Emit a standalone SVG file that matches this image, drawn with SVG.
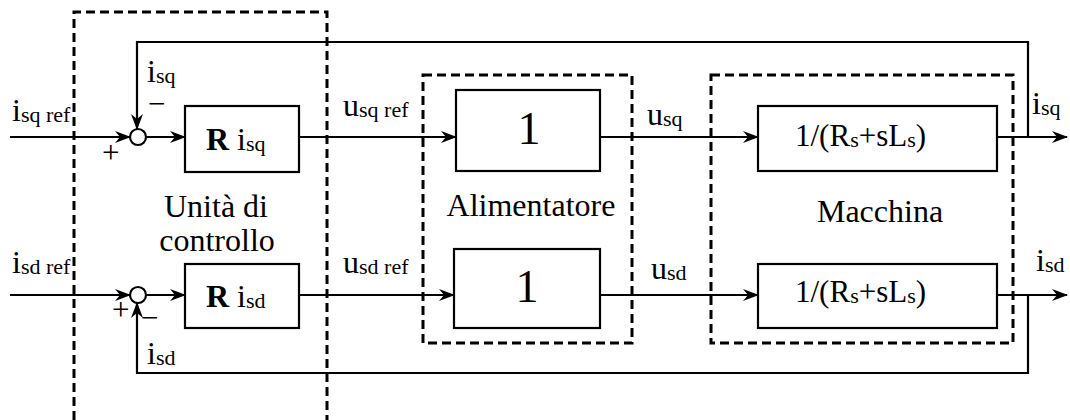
<svg xmlns="http://www.w3.org/2000/svg" width="1070" height="420" viewBox="0 0 1070 420">
<style>
.t{font-family:"Liberation Serif","Times New Roman",serif;font-size:31px;fill:#000}
.lab{font-size:32px}
.s{font-size:22px}
.big{font-size:46px}
.blk{fill:#fff;stroke:#000;stroke-width:2.2}
.ln{fill:none;stroke:#000;stroke-width:2.2}
.ar{marker-end:url(#ah)}
.dash{fill:none;stroke:#000;stroke-width:3;stroke-dasharray:9 5}
</style>
<defs>
<marker id="ah" viewBox="0 0 16 12" refX="15" refY="6" markerWidth="16" markerHeight="12" markerUnits="userSpaceOnUse" orient="auto">
<path d="M0,0 L16,6 L0,12 L5,6 Z" fill="#000"/>
</marker>
</defs>
<rect width="1070" height="420" fill="#fff"/>

<g id="groups">
<path class="dash" d="M74,420 V12 H327 V420"/>
<rect class="dash" x="423" y="75" width="209" height="268"/>
<rect class="dash" x="711" y="75" width="302" height="268"/>
</g>

<g id="connectors">
<line class="ln ar" x1="10" y1="137" x2="130" y2="137"/>
<line class="ln ar" x1="146" y1="137" x2="185" y2="137"/>
<line class="ln ar" x1="299" y1="137" x2="456" y2="137"/>
<line class="ln ar" x1="600" y1="137" x2="758" y2="137"/>
<line class="ln ar" x1="997" y1="137" x2="1067" y2="137"/>
<path class="ln ar" d="M1028,137 V42 H137 V129"/>
<line class="ln ar" x1="10" y1="295" x2="130" y2="295"/>
<line class="ln ar" x1="146" y1="295" x2="185" y2="295"/>
<line class="ln ar" x1="299" y1="295" x2="454" y2="295"/>
<line class="ln ar" x1="600" y1="295" x2="758" y2="295"/>
<line class="ln ar" x1="997" y1="295" x2="1067" y2="295"/>
<path class="ln ar" d="M1028,295 V373 H137 V303"/>
</g>

<g id="sum_q"><circle cx="138" cy="137" r="8" class="blk" stroke-width="2"/></g>
<g id="sum_d"><circle cx="138" cy="295" r="8" class="blk" stroke-width="2"/></g>

<g id="ctrl_q"><rect class="blk" x="185" y="106" width="114" height="66"/>
<text class="t lab" x="206" y="150"><tspan font-weight="bold">R</tspan> i<tspan class="s" dy="1">sq</tspan></text></g>
<g id="ctrl_d"><rect class="blk" x="185" y="264" width="114" height="64"/>
<text class="t lab" x="206" y="307"><tspan font-weight="bold">R</tspan> i<tspan class="s" dy="1">sd</tspan></text></g>

<g id="alim_q"><rect class="blk" x="456" y="90" width="144" height="81"/>
<text class="t big" x="529" y="144" text-anchor="middle">1</text></g>
<g id="alim_d"><rect class="blk" x="454" y="249" width="146" height="79"/>
<text class="t big" x="527" y="302" text-anchor="middle">1</text></g>

<g id="mach_q"><rect class="blk" x="758" y="106" width="239" height="65"/>
<text class="t" x="795" y="146">1/(R<tspan class="s" dy="1">s</tspan><tspan dy="-1">+sL</tspan><tspan class="s" dy="1">s</tspan><tspan dy="-1">)</tspan></text></g>
<g id="mach_d"><rect class="blk" x="758" y="264" width="239" height="64"/>
<text class="t" x="795" y="302">1/(R<tspan class="s" dy="1">s</tspan><tspan dy="-1">+sL</tspan><tspan class="s" dy="1">s</tspan><tspan dy="-1">)</tspan></text></g>

<g id="labels">
<text class="t lab" x="216" y="217" text-anchor="middle">Unità di</text>
<text class="t lab" x="217" y="251" text-anchor="middle">controllo</text>
<text class="t lab" x="531" y="216" text-anchor="middle">Alimentatore</text>
<text class="t lab" x="880" y="222" text-anchor="middle">Macchina</text>

<text class="t lab" x="12" y="121">i<tspan class="s" dy="1">sq ref</tspan></text>
<text class="t lab" x="12" y="273">i<tspan class="s" dy="1">sd ref</tspan></text>
<text class="t lab" x="147" y="82">i<tspan class="s" dy="1">sq</tspan></text>
<text class="t lab" x="147" y="364">i<tspan class="s" dy="1">sd</tspan></text>
<text class="t lab" x="343" y="116">u<tspan class="s" dy="1">sq ref</tspan></text>
<text class="t lab" x="343" y="273">u<tspan class="s" dy="1">sd ref</tspan></text>
<text class="t lab" x="647" y="125">u<tspan class="s" dy="1">sq</tspan></text>
<text class="t lab" x="651" y="279">u<tspan class="s" dy="1">sd</tspan></text>
<text class="t lab" x="1032" y="114">i<tspan class="s" dy="1">sq</tspan></text>
<text class="t lab" x="1036" y="271">i<tspan class="s" dy="1">sd</tspan></text>

<text class="t" x="148" y="114" font-size="26">−</text>
<text class="t" x="102" y="163" font-size="27">+</text>
<text class="t" x="112" y="320" font-size="27">+</text>
<text class="t" x="141" y="328" font-size="26">−</text>
</g>
</svg>
